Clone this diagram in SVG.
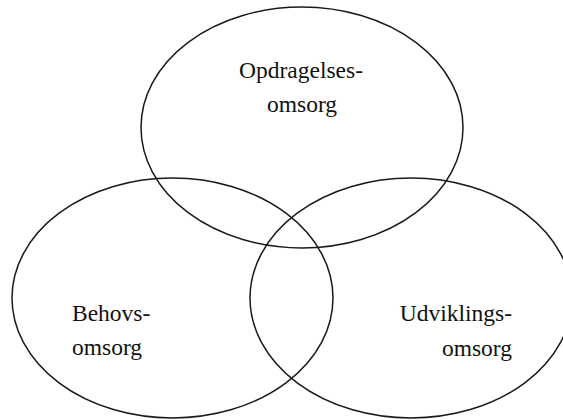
<svg xmlns="http://www.w3.org/2000/svg" width="563" height="420" viewBox="0 0 563 420">
<style>
.c{fill:none;stroke:#1a1a1a;stroke-width:1.5}
.t{font-family:"Liberation Serif","Times New Roman",serif;font-size:23.5px;fill:#111}
</style>
<rect width="563" height="420" fill="#fff"/>
<g id="opdragelse">
<ellipse class="c" cx="302" cy="127.5" rx="161" ry="120.5"/>
<text class="t" x="301" y="78" text-anchor="middle">Opdragelses-</text>
<text class="t" x="302" y="112" text-anchor="middle">omsorg</text>
</g>
<g id="behov">
<ellipse class="c" cx="172.5" cy="298" rx="160.5" ry="120"/>
<text class="t" x="72" y="321">Behovs-</text>
<text class="t" x="72" y="355">omsorg</text>
</g>
<g id="udvikling">
<ellipse class="c" cx="411" cy="298" rx="161" ry="120"/>
<text class="t" x="512" y="321" text-anchor="end">Udviklings-</text>
<text class="t" x="512" y="356" text-anchor="end">omsorg</text>
</g>
<g id="connectors"/>
</svg>
